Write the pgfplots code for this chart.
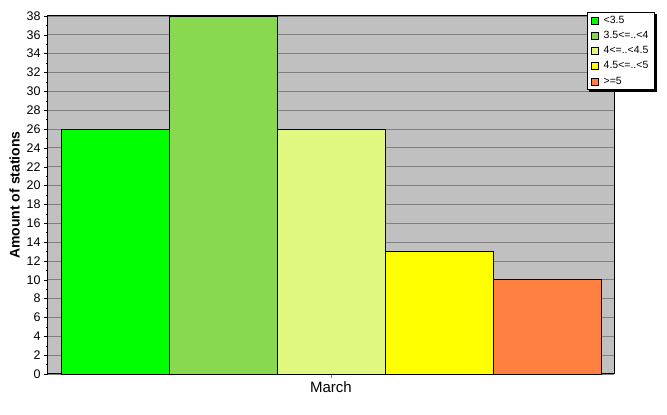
\documentclass[border=0pt]{standalone}
\usepackage{pgfplots}
\pgfplotsset{compat=1.18}
\usepackage{fontspec}
\setmainfont{Liberation Sans}
\definecolor{bgray}{HTML}{C0C0C0}
\definecolor{gline}{HTML}{808080}
\definecolor{c1}{HTML}{00FF00}
\definecolor{c2}{HTML}{88D850}
\definecolor{c3}{HTML}{E0F880}
\definecolor{c4}{HTML}{FFFF00}
\definecolor{c5}{HTML}{FF8040}
\begin{document}
\begin{tikzpicture}[x=1pt,y=1pt]
\path[use as bounding box] (0,0) rectangle (667,415);
\begin{axis}[
  at={(48pt,41pt)}, anchor=south west,
  scale only axis, width=566pt, height=358pt,
  xmin=0, xmax=566, ymin=0, ymax=38,
  axis background/.style={fill=bgray},
  ytick={0,2,...,38},
  minor y tick num=1,
  xtick={283}, xticklabels={March},
  xtick pos=bottom, ytick pos=left,
  tick align=outside,
  major tick length=4pt, minor tick length=2pt,
  xtick style={gline, thin},
  ytick style={black, thin},
  ymajorgrids, grid style={gline, line width=0.8pt},
  axis line style={black, line width=1pt},
  /pgf/number format/assume math mode=true,
  tick label style={font=\fontsize{12.5}{13}\selectfont},
  yticklabel style={xshift=0pt},
  xticklabel style={yshift=0pt, font=\fontsize{15}{16}\selectfont},
  ylabel={Amount of stations},
  ylabel style={at={(axis description cs:-0.059,0.5)}, anchor=center, font=\fontsize{14}{15}\selectfont\bfseries},
  legend style={at={(axis description cs:0.952,1.011)}, anchor=north west, name=leg,
    font=\fontsize{10.5}{11}\selectfont, draw=black, line width=0.6pt,
    fill=white, inner xsep=4pt, inner ysep=1.5pt, row sep=2.5pt},
  legend cell align=left,
  legend image code/.code={\draw[#1, draw=black, line width=0.5pt] (0pt,-3.5pt) rectangle (7pt,3.5pt); \path (10pt,0pt);},
  clip=false,
]
\addplot[ybar, bar width=108, bar shift=0pt, fill=c1, draw=black, line width=0.6pt] coordinates {(67,26)};
\addplot[ybar, bar width=108, bar shift=0pt, fill=c2, draw=black, line width=0.6pt] coordinates {(175,38)};
\addplot[ybar, bar width=108, bar shift=0pt, fill=c3, draw=black, line width=0.6pt] coordinates {(283,26)};
\addplot[ybar, bar width=108, bar shift=0pt, fill=c4, draw=black, line width=0.6pt] coordinates {(391,13)};
\addplot[ybar, bar width=108, bar shift=0pt, fill=c5, draw=black, line width=0.6pt] coordinates {(499,10)};
\legend{{<3.5},{3.5<=..<4},{4<=..<4.5},{4.5<=..<5},{>=5}}
\end{axis}
\fill[black] ([xshift=0.3pt,yshift=-2pt]leg.north east) rectangle ([xshift=2.3pt,yshift=-2.3pt]leg.south east);
\fill[black] ([xshift=2pt,yshift=-0.3pt]leg.south west) rectangle ([xshift=2.3pt,yshift=-2.3pt]leg.south east);
\end{tikzpicture}
\end{document}
